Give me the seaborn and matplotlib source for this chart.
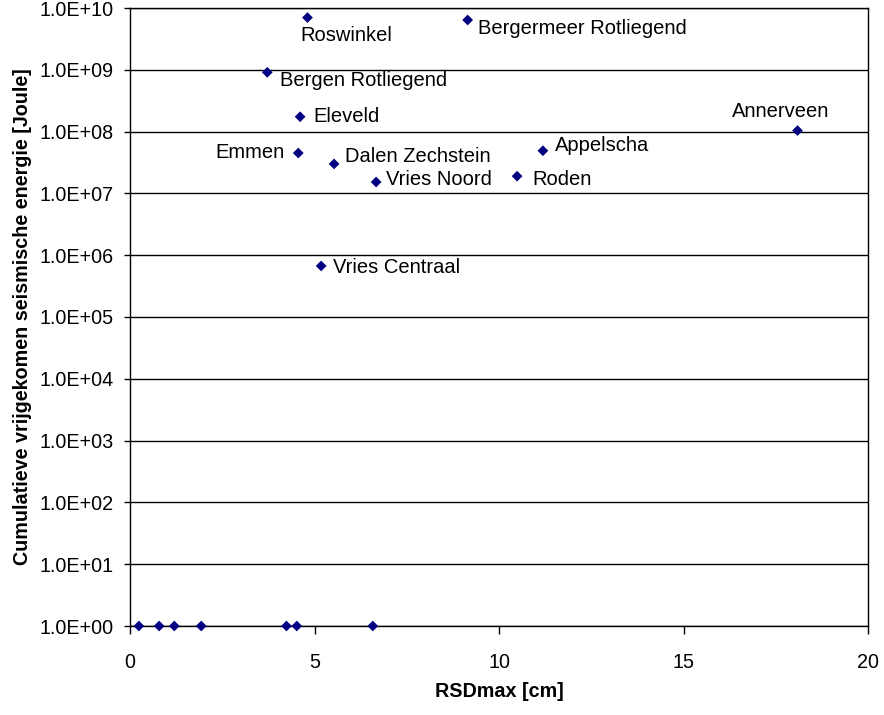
import matplotlib
matplotlib.use("Agg")
import matplotlib.pyplot as plt
import matplotlib.ticker as mticker
import seaborn as sns
import pandas as pd

# Labelled fields
names = ["Roswinkel", "Bergermeer Rotliegend", "Bergen Rotliegend", "Eleveld",
         "Annerveen", "Emmen", "Dalen Zechstein", "Appelscha", "Vries Noord",
         "Roden", "Vries Centraal"]
rsd = [4.81, 9.15, 3.72, 4.61, 18.09, 4.56, 5.53, 11.19, 6.67, 10.49, 5.18]
energy = [7.0e9, 6.4e9, 9.1e8, 1.74e8, 1.04e8, 4.5e7, 3.0e7, 4.9e7, 1.53e7, 1.9e7, 6.7e5]

# Unlabelled fields at 1 Joule
rsd_zero = [0.24, 0.79, 1.2, 1.93, 4.24, 4.52, 6.58]
energy_zero = [1.0, 1.0, 1.0, 1.0, 1.0, 1.0, 1.0]

x_ticks = [0, 5, 10, 15, 20]
y_ticks = [1e0, 1e1, 1e2, 1e3, 1e4, 1e5, 1e6, 1e7, 1e8, 1e9, 1e10]

# label placement (pixel offsets, alignment)
label_pos = {
    "Roswinkel": (-7, -18, "left"),
    "Bergermeer Rotliegend": (10, -9, "left"),
    "Bergen Rotliegend": (13, -8, "left"),
    "Eleveld": (13, 0, "left"),
    "Annerveen": (-17, 19, "center"),
    "Emmen": (-14, 1, "right"),
    "Dalen Zechstein": (11, 7, "left"),
    "Appelscha": (12, 5, "left"),
    "Vries Noord": (10, 2, "left"),
    "Roden": (15, -3, "left"),
    "Vries Centraal": (12, -2, "left"),
}

sns.set_style("white")
plt.rcParams["font.family"] = ["Liberation Sans", "DejaVu Sans"]
plt.rcParams["text.color"] = "black"
plt.rcParams["axes.labelcolor"] = "black"
plt.rcParams["xtick.color"] = "black"
plt.rcParams["ytick.color"] = "black"

df = pd.DataFrame({"RSDmax": rsd + rsd_zero, "E": energy + energy_zero})

fig = plt.figure(figsize=(8.84, 7.15), dpi=100)
ax = fig.add_axes([130 / 884, 1 - 626 / 715, (868 - 130) / 884, (626 - 8) / 715])

ax.set_yscale("log")
ax.set_xlim(0, 20)
ax.set_ylim(1, 1e10)

for yv in y_ticks:
    ax.axhline(yv, color="black", lw=1.0, zorder=1)

sns.scatterplot(data=df, x="RSDmax", y="E", ax=ax, marker="D", s=30,
                color="#000080", edgecolor="none", linewidth=0, zorder=5,
                clip_on=False, legend=False)

for n, xv, yv in zip(names, rsd, energy):
    dx, dy, ha = label_pos[n]
    ax.annotate(n, (xv, yv), xytext=(dx, dy), textcoords="offset pixels",
                ha=ha, va="center", fontsize=14.5, color="black")

ax.set_xticks(x_ticks)
ax.set_yticks(y_ticks)
ax.yaxis.set_major_formatter(mticker.FuncFormatter(lambda v, p: f"{v:.1E}"))
ax.yaxis.set_minor_locator(mticker.NullLocator())
ax.tick_params(axis="x", direction="out", length=5.5, width=1, pad=14, labelsize=14.2,
               bottom=True, colors="black", labelcolor="black")
ax.tick_params(axis="y", direction="out", length=4, width=1, pad=8, labelsize=14.2,
               left=True, colors="black", labelcolor="black")

for s in ["left", "bottom", "top", "right"]:
    ax.spines[s].set_visible(True)
    ax.spines[s].set_color("black")
    ax.spines[s].set_linewidth(1.0)

ax.set_xlabel("RSDmax [cm]", fontsize=14.2, fontweight="bold", labelpad=7,
              color="black")
ax.set_ylabel("Cumulatieve vrijgekomen seismische energie [Joule]", fontsize=14.2,
              fontweight="bold", labelpad=5, color="black")

fig.savefig("out.png", dpi=100)
